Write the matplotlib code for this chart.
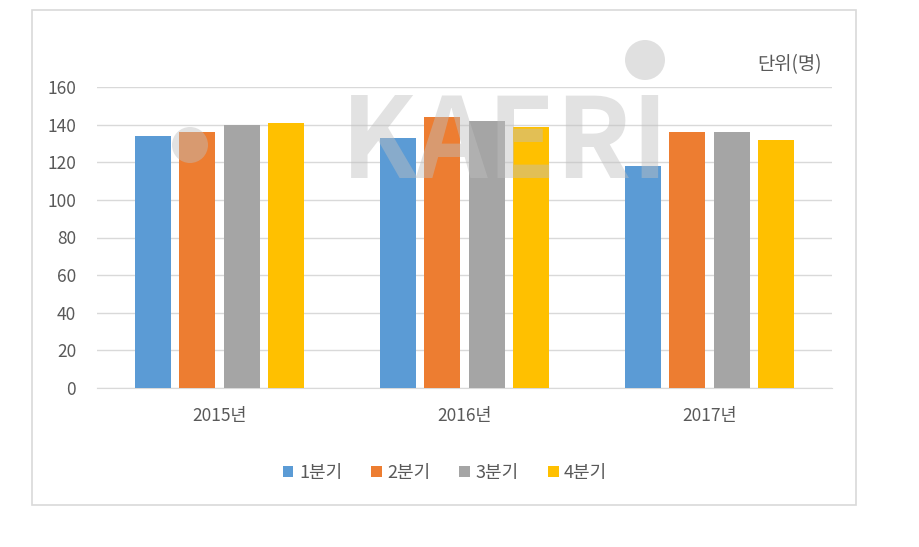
import matplotlib
matplotlib.use("Agg")
import matplotlib.pyplot as plt
import numpy as np
from matplotlib.patches import Rectangle, Ellipse

plt.rcParams['font.family'] = ['Noto Sans CJK KR', 'DejaVu Sans']

years = ['2015년', '2016년', '2017년']
quarters = ['1분기', '2분기', '3분기', '4분기']
q1 = [134, 133, 118]
q2 = [136, 144, 136]
q3 = [140, 142, 136]
q4 = [141, 139, 132]
series = [q1, q2, q3, q4]
colors = ['#5B9BD5', '#ED7D31', '#A5A5A5', '#FFC000']
yticks = [0, 20, 40, 60, 80, 100, 120, 140, 160]

W, H = 920, 547
fig = plt.figure(figsize=(9.2, 5.47), dpi=100)
fig.patch.set_facecolor('white')

# outer border
fig.patches.append(Rectangle((32/W, 1-505/H), (856-32)/W, (505-10)/H,
                             transform=fig.transFigure, fill=False,
                             edgecolor='#D9D9D9', linewidth=1.2, zorder=0))

ax = fig.add_axes([97/W, 1-388/H, 735/W, 301/H])
x = np.arange(len(years))
bw = 0.147
step = 0.182
for i, (vals, c) in enumerate(zip(series, colors)):
    ax.bar(x + (i - 1.5) * step, vals, width=bw, color=c, label=quarters[i], zorder=3)

ax.set_xlim(-0.5, 2.5)
ax.set_ylim(0, 160)
ax.set_yticks(yticks)
ax.set_yticklabels([str(v) for v in yticks])
ax.set_xticks(x)
ax.set_xticklabels(years)
ax.yaxis.grid(True, color='#D9D9D9', linewidth=1, zorder=0)
ax.set_axisbelow(True)
for s in ['top', 'right', 'left']:
    ax.spines[s].set_visible(False)
ax.spines['bottom'].set_color('#D9D9D9')
ax.tick_params(axis='both', length=0, colors='#595959', labelsize=12.5)
ax.tick_params(axis='y', pad=15)
ax.tick_params(axis='x', pad=14)

fig.text(822/W, 1-65/H, '단위(명)', ha='right', va='center', fontsize=13.5, color='#595959')

# watermark
fig.text(505/W, 1-146/H, 'KAERI', ha='center', va='center', fontsize=80,
         fontweight='bold', color='#BFBFBF', alpha=0.45, zorder=10)
def circ(cx, cy, r, col, a):
    fig.patches.append(Ellipse((cx/W, 1-cy/H), 2*r/W, 2*r/H, transform=fig.transFigure,
                               facecolor=col, edgecolor='none', alpha=a, zorder=10))
circ(645, 60, 20, '#CCCCCC', 0.6)
circ(190, 145, 18, '#BFBFBF', 0.45)

h, l = ax.get_legend_handles_labels()
leg = fig.legend(h, l, loc='center', bbox_to_anchor=(445/W, 1-473/H), ncol=4,
                 frameon=False, fontsize=13, handlelength=0.6, handleheight=0.6,
                 handletextpad=0.3, columnspacing=1.6)
for t in leg.get_texts():
    t.set_color('#595959')

fig.savefig('out.png', dpi=100, facecolor='white')
